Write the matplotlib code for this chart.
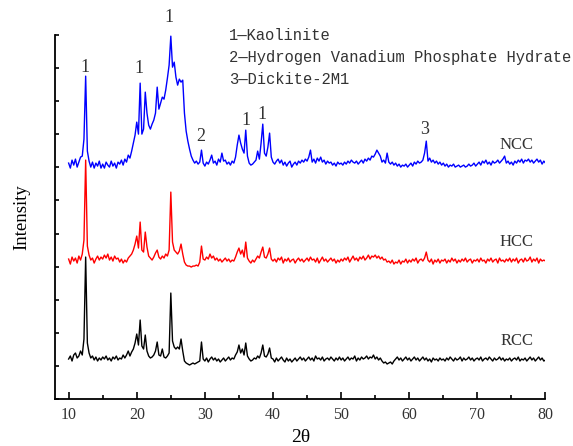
import numpy as np
import matplotlib.pyplot as plt
from matplotlib.ticker import MultipleLocator

# 2theta grid of the scans (0.25 deg step), intensities in a.u. above each baseline
two_theta = np.linspace(10, 80, 281)

ncc = [
    2, -3, 5, 0, 6, -2, 3, 8, 9, 26, 89, 14, 4, -2, 3, -3, 2, -1, 4, -3,
    1, -3, 3, 0, -2, 4, -1, 2, -3, 3, 1, 5, 0, 6, 3, 10, 7, 14, 22, 30,
    43, 31, 82, 31, 36, 73, 52, 40, 36, 41, 45, 52, 78, 56, 62, 68, 66, 75, 87, 100,
    129, 98, 103, 88, 80, 86, 83, 85, 52, 34, 24, 16, 9, 5, 2, 4, 1, 3, 15, 2,
    -1, 3, 1, 5, 10, 2, 4, 0, 6, 3, 12, 4, 5, 1, 3, 0, 4, 2, 8, 20,
    30, 22, 16, 12, 35, 9, 2, 0, 1, 3, 5, 14, 6, 22, 41, 12, 9, 18, 32, 8,
    3, 1, 4, 6, 2, 5, 0, 3, -1, 2, 4, -2, 1, 3, 0, 4, 2, 5, 3, 6,
    4, 8, 15, 3, 6, 2, 7, 4, 8, 3, 5, 1, 4, 2, 3, 0, 2, -1, 3, 1,
    2, 0, 3, 1, 4, 2, 5, 3, 2, 4, 1, 3, 5, 2, 6, 4, 7, 5, 9, 8,
    11, 15, 12, 9, 3, 5, 2, 12, 3, 1, 3, 0, 2, -1, 1, -2, 0, -1, 1, -2,
    0, 2, -1, 3, 1, 4, 2, 3, 5, 12, 24, 4, 7, 3, 5, 2, 4, 1, 3, 0,
    2, -1, 1, -2, 0, -1, 1, -2, -1, 0, -2, -1, 0, -2, -1, 1, -1, 0, 2, -1,
    1, 3, 0, 4, 2, 5, 1, 3, 0, 4, 2, 3, 5, 2, 4, 6, 9, 2, 4, 1,
    3, 0, 4, 2, 5, 3, 6, 2, 5, 4, 6, 3, 5, 2, 4, 6, 3, 5, 1, 4, 2,
]

hcc = [
    3, -2, 5, 1, 4, -1, 6, 2, 8, 22, 102, 16, 7, 2, 4, -1, 3, 6, 2, 5,
    3, 7, 4, 8, 2, 5, 1, 6, 3, 4, 0, 3, -1, 2, 0, 4, 6, 8, 12, 18,
    26, 14, 40, 12, 10, 30, 15, 6, 4, 2, 5, 9, 12, 5, 3, 6, 4, 8, 6, 12,
    70, 20, 12, 10, 8, 11, 18, 8, 0, -3, -4, -4, -5, -4, -4, -3, -4, 0, 16, 3,
    2, 5, 3, 8, 4, 6, 2, 4, 1, 3, 0, 2, 4, 1, 3, 0, 2, 1, 5, 10,
    14, 8, 12, 5, 20, 4, 1, -1, 2, 0, 3, 6, 4, 10, 15, 5, 4, 8, 14, 3,
    1, 3, 0, 4, 2, 5, -1, 3, 1, 4, 0, 2, 3, -1, 2, 4, 1, 3, 0, 2,
    4, 1, 5, 2, 3, 0, 4, -1, 2, 5, 1, 3, 0, 2, 4, 1, 3, -1, 2, 0,
    3, 1, 4, 2, 5, 0, 3, 6, 2, 4, 1, 5, 3, 6, 2, 4, 7, 3, 6, 5,
    7, 4, 6, 3, 5, 2, 3, 0, 1, -1, 2, -2, 0, -1, 2, -2, 1, 0, 3, -1,
    2, 0, 3, 1, 4, -1, 2, 3, 1, 4, 10, 2, 0, 3, -2, 2, 0, 3, -1, 2,
    1, 3, -1, 2, 0, 4, 1, 3, -1, 2, 0, 3, 1, 4, 0, 2, 3, -1, 2, 1,
    3, 0, 4, 1, 2, -1, 3, 1, 4, 0, 2, 3, -1, 4, 1, 2, 0, 3, 1, 4,
    0, 3, 1, 4, -1, 2, 3, 0, 4, 1, 2, 5, 0, 3, 1, 4, -1, 3, 1, 2, 1,
]

rcc = [
    2, 5, 0, 6, 8, 3, 5, 10, 6, 22, 104, 18, 8, 3, 5, 1, 4, 0, 3, 1,
    4, 2, 5, 1, 3, 0, 4, 2, 5, 1, 3, 2, 6, 3, 6, 10, 5, 9, 12, 18,
    27, 16, 41, 15, 12, 26, 10, 5, 3, 4, 6, 10, 19, 6, 5, 12, 4, 3, 5, 8,
    68, 20, 14, 12, 14, 12, 22, 10, 0, -2, -3, -4, -3, -2, -3, -2, -1, 0, 19, 2,
    0, 3, -1, 2, 4, 1, 3, 0, 2, -1, 1, 3, 0, 2, 4, 1, 3, 2, 6, 9,
    16, 8, 12, 6, 18, 5, 2, 0, 1, 3, 2, 5, 3, 8, 16, 5, 4, 7, 13, 3,
    2, -1, 3, 0, 2, 4, 1, -1, 3, 0, 2, -1, 1, 3, 0, 2, 4, 1, 3, 0,
    2, 4, 1, 3, 0, 5, 2, 3, 1, 4, 0, 2, 3, 1, 4, 2, 0, 3, 1, 4,
    1, 3, 0, 2, 4, 1, 3, 2, 5, 0, 3, 1, 4, 2, 3, 5, 2, 4, 3, 6,
    2, 4, 1, 3, 0, -2, -1, -3, -2, -1, -3, 0, 2, 4, 1, 3, 0, 2, 4, 1,
    3, 0, 2, 4, 1, 3, 0, 2, 4, 1, 3, 0, 2, -1, 3, 1, 2, 0, 3, 1,
    2, 0, 3, 1, 4, 2, 0, 3, 1, 2, 4, 0, 3, 1, 2, 4, 1, 3, 0, 2,
    3, 1, 4, 0, 2, 3, 1, 4, 2, 0, 3, 1, 2, 4, 1, 3, 0, 2, 1, 3,
    0, 2, 3, 1, 4, 0, 2, 1, 3, 0, 2, 4, 1, 3, 0, 2, 4, 1, 3, 0, 1,
]

samples = ["NCC", "HCC", "RCC"]
offsets = [234, 137, 38]
colors = ["#0000ff", "#ff0000", "#000000"]

# phase markers on the NCC pattern: (2theta, label)
peak_marks = [(12.4, "1"), (20.3, "1"), (24.8, "1"), (29.4, "2"),
              (36.1, "1"), (38.4, "1"), (62.3, "3")]
peak_heights = [323, 322, 373, 254, 270, 276, 261]

phases = ["1\u2014Kaolinite",
          "2\u2014Hydrogen Vanadium Phosphate Hydrate",
          "3\u2014Dickite-2M1"]

assert len(ncc) == len(hcc) == len(rcc) == len(two_theta)

serif = "Liberation Serif"

fig = plt.figure(figsize=(5.73, 4.46), dpi=100)
ax = fig.add_axes([0.096, 0.1054, 0.856, 0.816])

for name, data, off, c in zip(samples, [ncc, hcc, rcc], offsets, colors):
    ax.plot(two_theta, np.array(data) + off, color=c, linewidth=1.0)
    ax.text(75.8, off + 20, name, fontsize=12, family=serif, color="#333333",
            ha="center", va="center")

for (tt, lab), h in zip(peak_marks, peak_heights):
    ax.text(tt, h, lab, fontsize=13, family=serif, color="#333333",
            ha="center", va="bottom")

for i, txt in enumerate(phases):
    ax.text(33.5, 364 - 22 * i, txt, fontsize=11.2, family="Liberation Mono",
            color="#333333", ha="left", va="center")

ax.set_xlim(8, 80)
ax.set_ylim(0, 364.1)
ax.xaxis.set_major_locator(MultipleLocator(10))
ax.xaxis.set_minor_locator(MultipleLocator(5))
ax.set_xticks(np.arange(10, 81, 10))
ax.set_yticks(np.arange(0, 365, 33.1))
ax.set_yticklabels([])
ax.tick_params(axis="x", which="major", direction="in", length=5, width=1.2,
               pad=6, labelsize=11.5, labelcolor="#333333")
ax.tick_params(axis="x", which="minor", direction="in", length=3, width=1.2)
ax.tick_params(axis="y", direction="in", length=3, width=1.2)
for lab in ax.get_xticklabels():
    lab.set_family(serif)

for s in ["top", "right"]:
    ax.spines[s].set_visible(False)
for s in ["left", "bottom"]:
    ax.spines[s].set_linewidth(1.3)

ax.set_xlabel("2\u03b8", fontsize=14, family=serif, labelpad=4)
ax.set_ylabel("Intensity", fontsize=13.5, family=serif, labelpad=14)

fig.savefig("out.png", dpi=100)
